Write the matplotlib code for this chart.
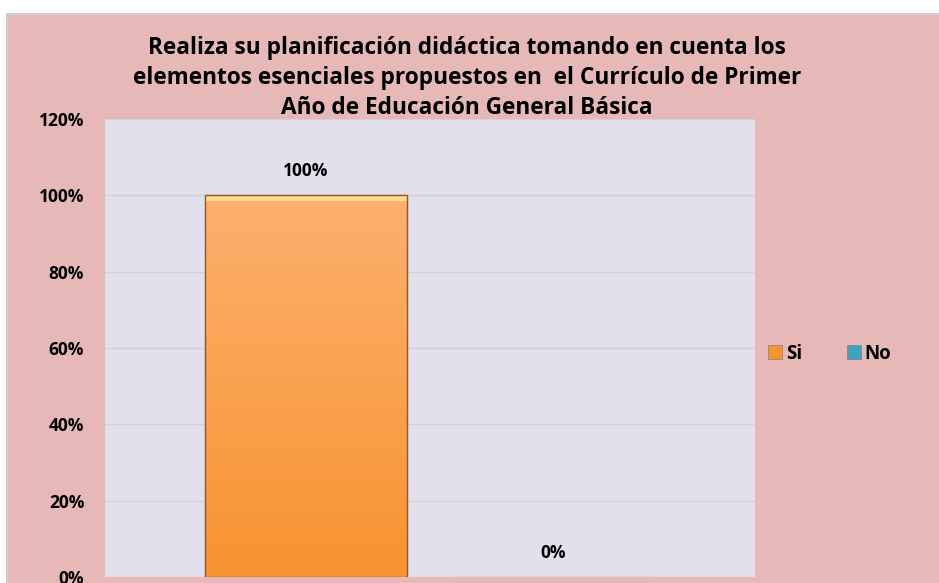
import matplotlib
matplotlib.use("Agg")
import matplotlib.pyplot as plt
import numpy as np
from matplotlib.patches import Rectangle
from matplotlib.colors import LinearSegmentedColormap
from matplotlib.lines import Line2D

title = "Realiza su planificación didáctica tomando en cuenta los\nelementos esenciales propuestos en  el Currículo de Primer\nAño de Educación General Básica"
series = ["Si", "No"]
values = [1.00, 0.00]
labels = ["100%", "0%"]
yticks = [0, 0.2, 0.4, 0.6, 0.8, 1.0, 1.2]
ytick_labels = ["0%", "20%", "40%", "60%", "80%", "100%", "120%"]

FONT = ["Open Sans", "DejaVu Sans"]
plt.rcParams['font.family'] = FONT

W, H = 939, 583
fig = plt.figure(figsize=(W / 100, H / 100), dpi=100)
fig.patch.set_facecolor("white")

bg = Rectangle((7 / W, -0.01), 1.02 - 7 / W, 1.01 - 14 / H, transform=fig.transFigure,
               facecolor="#E6B9B8", edgecolor="#D0CECE", linewidth=1.5, zorder=-5)
fig.patches.append(bg)

ax = fig.add_axes([105 / W, 1 - 577 / H, 650 / W, (577 - 119) / H], zorder=2)
ax.set_facecolor("#E4DFEC")

centers = [0.309, 0.689]
width = 0.311
base_colors = [("#FDB06E", "#F79331"), ("#7FCCDF", "#3FA3BD")]

for c, v, lab, (ctop, cbot) in zip(centers, values, labels, base_colors):
    bars = ax.bar(c, v, width=width, color=cbot, edgecolor="#9A6330",
                  linewidth=0.8, zorder=3)
    if v > 0:
        patch = bars[0]
        grad = np.linspace(0, 1, 256).reshape(-1, 1)
        cmap = LinearSegmentedColormap.from_list("g", [cbot, ctop])
        im = ax.imshow(grad, extent=[c - width / 2, c + width / 2, 0, v],
                       origin="lower", aspect="auto", cmap=cmap, zorder=3.5)
        im.set_clip_path(patch)
        ax.add_patch(Rectangle((c - width / 2, v - 0.016), width, 0.016,
                               facecolor="#FFDC8A", edgecolor="none", zorder=4))
        ax.add_patch(Rectangle((c - width / 2, 0), width, v, facecolor="none",
                               edgecolor="#8C5A2B", linewidth=1.0, zorder=5))
    ax.text(c, v + 0.063, lab, ha="center", va="center", fontsize=12.5,
            fontweight="bold", color="black", zorder=6)
ax.set_xlim(0, 1)
ax.set_ylim(0, 1.2)

ax.set_yticks(yticks)
ax.set_yticklabels(ytick_labels, fontsize=12.5, fontweight="bold")
ax.tick_params(axis="y", length=0, pad=15)
ax.set_xticks([])
ax.yaxis.grid(True, color="#D3D3D3", linewidth=1)
ax.set_axisbelow(True)
for s in ax.spines.values():
    s.set_visible(False)

fig.text(467 / W, 1 - 78 / H, title, ha="center", va="center", fontsize=16.3,
         fontweight="bold", linespacing=1.33)

handles = [Line2D([], [], marker="s", linestyle="none", markersize=10,
                  markerfacecolor=base_colors[i][1], markeredgecolor="#7F7F7F",
                  markeredgewidth=0.5) for i in range(2)]
fig.legend(handles, series, loc="center left", bbox_to_anchor=(751 / W, 1 - 354 / H),
           ncol=2, frameon=False, handletextpad=0.15, columnspacing=2.4,
           handlelength=0.8, prop={"weight": "bold", "size": 13.5})

fig.savefig("out.png", dpi=100, facecolor=fig.get_facecolor())
